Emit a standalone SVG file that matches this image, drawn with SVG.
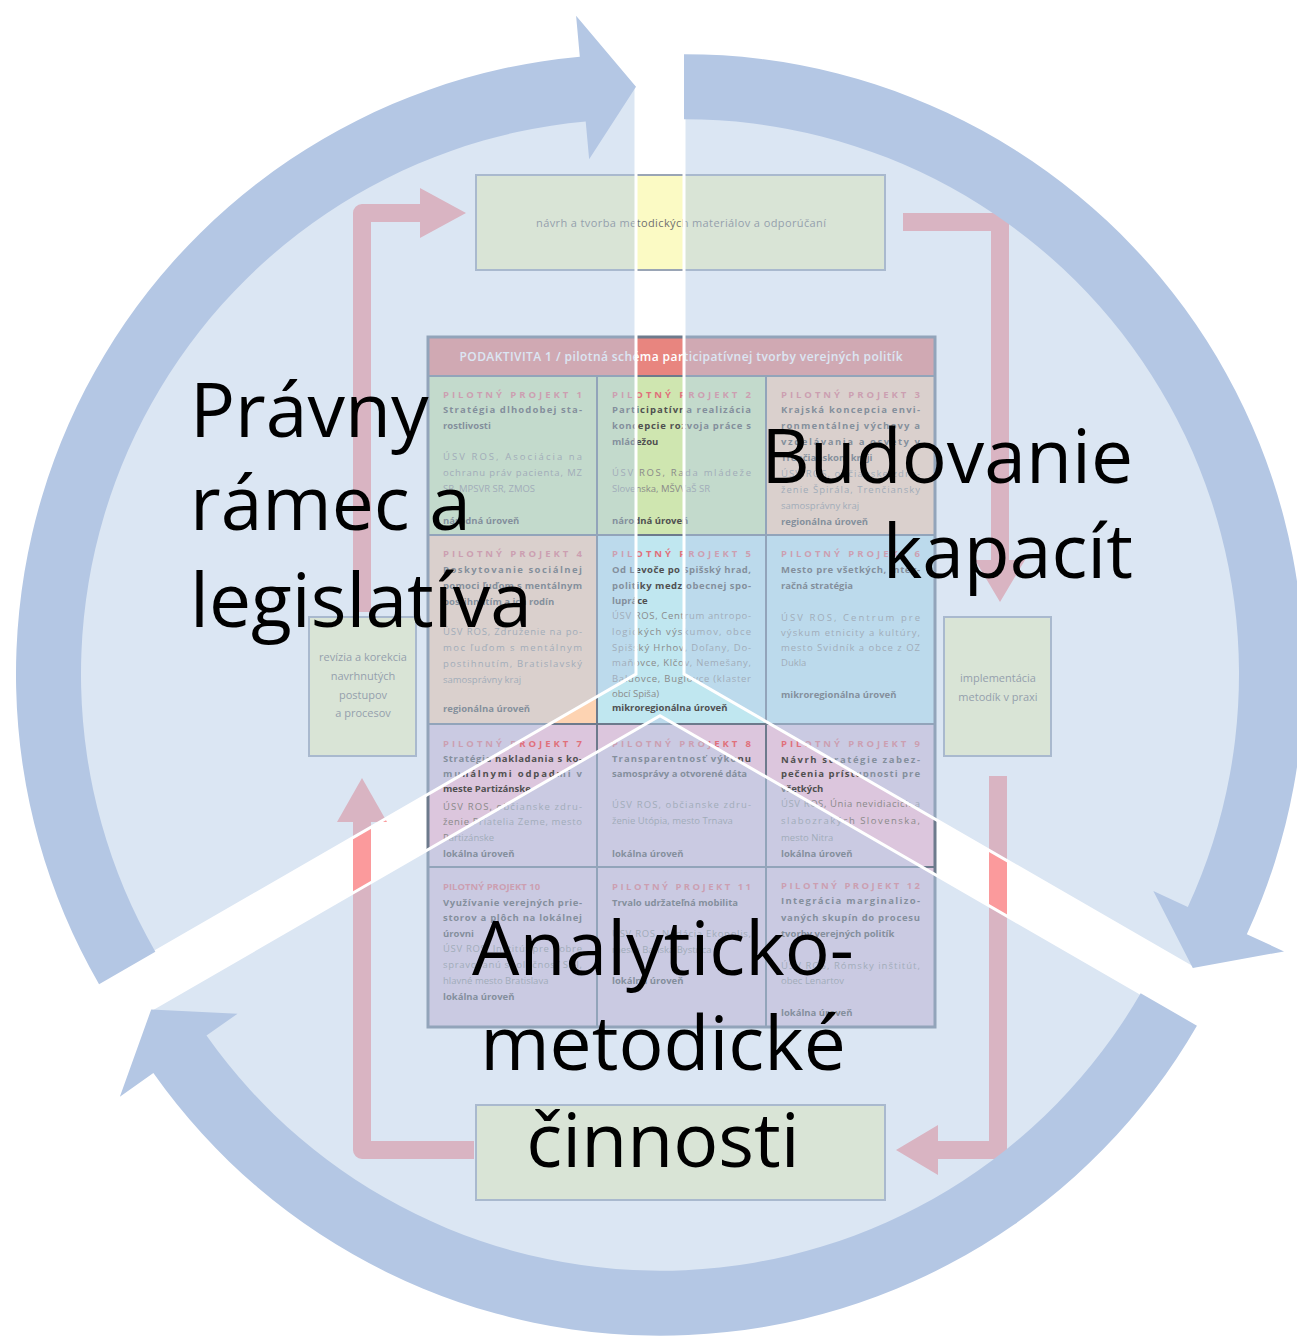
<svg xmlns="http://www.w3.org/2000/svg" width="1297" height="1337" viewBox="0 0 1297 1337">
<style>
  text { font-family: "Open Sans", "Liberation Sans", sans-serif; }
  .box { fill: #fbfac4; stroke: #9aa5b5; stroke-width: 2; }
  .cellg { fill: #cfe6b0; }
  .cellp { fill: #fdd3b2; }
  .cellb { fill: #c0e7f0; }
  .celll { fill: #dcc6dd; }
  .grid { fill: none; stroke: #6d7a8c; stroke-width: 2; }
  .t { font-size: 9.5px; font-weight: 700; fill: #e0707a; }
  .b { font-size: 9.5px; font-weight: 700; fill: #505050; }
  .p { font-size: 9.5px; fill: #8a8a8a; }
  .l { font-size: 9.5px; font-weight: 700; fill: #505050; }
  .bx { font-size: 11px; fill: #707070; text-anchor: middle; }
  .red { fill: none; stroke: #fb9a9c; stroke-width: 18; stroke-linejoin: round; }
  .redh { fill: #fb9a9c; }
  .pie { fill: #b8cde8; opacity: 0.5; }
  .edge { fill: none; stroke: #ffffff; stroke-width: 3; }
  .ring { fill: #b4c7e4; }
  .lbl { font-size: 75px; fill: #000000; }
</style>

<!-- embedded background diagram -->
<g id="embedded">
  <g id="embedded-connectors">
    <path class="red" d="M362,612 L362,213 L424,213"/>
    <polygon class="redh" points="420,188 466,213 420,238"/>
    <path class="red" d="M903,222 L1000,222 L1000,562"/>
    <polygon class="redh" points="975,560 1025,560 1000,602"/>
    <path class="red" d="M998,776 L998,1150 L936,1150"/>
    <polygon class="redh" points="938,1125 938,1175 896,1150"/>
    <path class="red" d="M474,1150 L362,1150 L362,820"/>
    <polygon class="redh" points="337,822 387,822 362,778"/>
  </g>

  <g id="box-top">
    <rect class="box" x="476" y="175" width="409" height="95"/>
    <text class="bx" x="681" y="227" font-size="12" textLength="290" lengthAdjust="spacing">návrh a tvorba metodických materiálov a odporúčaní</text>
  </g>
  <g id="box-left">
    <rect class="box" x="309" y="617" width="107" height="139"/>
    <text class="bx" x="363" y="661">revízia a korekcia</text>
    <text class="bx" x="363" y="680">navrhnutých</text>
    <text class="bx" x="363" y="699">postupov</text>
    <text class="bx" x="363" y="717">a procesov</text>
  </g>
  <g id="box-right">
    <rect class="box" x="944" y="617" width="107" height="139"/>
    <text class="bx" x="998" y="682">implementácia</text>
    <text class="bx" x="998" y="701">metodík v praxi</text>
  </g>
  <g id="box-bottom">
    <rect class="box" x="476" y="1105" width="409" height="95"/>
  </g>

  <g id="grid">
    <rect x="428" y="337" width="507" height="39" fill="#e8857f"/>
    <text x="681" y="361" font-size="12" font-weight="600" fill="#ffffff" text-anchor="middle" textLength="443" lengthAdjust="spacing">PODAKTIVITA 1 / pilotná schéma participatívnej tvorby verejných politík</text>
    <rect class="cellg" x="428" y="376" width="169" height="159"/>
    <rect class="cellg" x="597" y="376" width="169" height="159"/>
    <rect class="cellp" x="766" y="376" width="169" height="159"/>
    <rect class="cellp" x="428" y="535" width="169" height="189"/>
    <rect class="cellb" x="597" y="535" width="169" height="189"/>
    <rect class="cellb" x="766" y="535" width="169" height="189"/>
    <rect class="celll" x="428" y="724" width="507" height="303"/>
    <path class="grid" d="M428,376 H935 M428,535 H935 M428,724 H935 M428,867 H935 M597,376 V1027 M766,376 V1027"/>
    <rect x="428" y="337" width="507" height="690" fill="none" stroke="#6d7a8c" stroke-width="3"/>

    <g id="pp1">
      <text class="t" x="443" y="398" textLength="139" lengthAdjust="spacing">PILOTNÝ PROJEKT 1</text>
      <text class="b" x="443" y="413" textLength="139" lengthAdjust="spacing">Stratégia dlhodobej sta-</text>
      <text class="b" x="443" y="429">rostlivosti</text>
      <text class="p" x="443" y="460" textLength="139" lengthAdjust="spacing">ÚSV ROS, Asociácia na</text>
      <text class="p" x="443" y="476" textLength="139" lengthAdjust="spacing">ochranu práv pacienta, MZ</text>
      <text class="p" x="443" y="492">SR, MPSVR SR, ZMOS</text>
      <text class="l" x="443" y="524">národná úroveň</text>
    </g>
    <g id="pp2">
      <text class="t" x="612" y="398" textLength="139" lengthAdjust="spacing">PILOTNÝ PROJEKT 2</text>
      <text class="b" x="612" y="413" textLength="139" lengthAdjust="spacing">Participatívna realizácia</text>
      <text class="b" x="612" y="429" textLength="139" lengthAdjust="spacing">koncepcie rozvoja práce s</text>
      <text class="b" x="612" y="445">mládežou</text>
      <text class="p" x="612" y="476" textLength="139" lengthAdjust="spacing">ÚSV ROS, Rada mládeže</text>
      <text class="p" x="612" y="492">Slovenska, MŠVVaŠ SR</text>
      <text class="l" x="612" y="524">národná úroveň</text>
    </g>
    <g id="pp3">
      <text class="t" x="781" y="398" textLength="139" lengthAdjust="spacing">PILOTNÝ PROJEKT 3</text>
      <text class="b" x="781" y="413" textLength="139" lengthAdjust="spacing">Krajská koncepcia envi-</text>
      <text class="b" x="781" y="429" textLength="139" lengthAdjust="spacing">ronmentálnej výchovy a</text>
      <text class="b" x="781" y="445" textLength="139" lengthAdjust="spacing">vzdelávania a osvety v</text>
      <text class="b" x="781" y="461">Trenčianskom kraji</text>
      <text class="p" x="781" y="477" textLength="139" lengthAdjust="spacing">ÚSV ROS, občianske zdru-</text>
      <text class="p" x="781" y="493" textLength="139" lengthAdjust="spacing">ženie Špirála, Trenčiansky</text>
      <text class="p" x="781" y="509">samosprávny kraj</text>
      <text class="l" x="781" y="525">regionálna úroveň</text>
    </g>
    <g id="pp4">
      <text class="t" x="443" y="557" textLength="139" lengthAdjust="spacing">PILOTNÝ PROJEKT 4</text>
      <text class="b" x="443" y="573" textLength="139" lengthAdjust="spacing">Poskytovanie sociálnej</text>
      <text class="b" x="443" y="589" textLength="139" lengthAdjust="spacing">pomoci ľuďom s mentálnym</text>
      <text class="b" x="443" y="605">postihnutím a ich rodín</text>
      <text class="p" x="443" y="635" textLength="139" lengthAdjust="spacing">ÚSV ROS, Združenie na po-</text>
      <text class="p" x="443" y="651" textLength="139" lengthAdjust="spacing">moc ľuďom s mentálnym</text>
      <text class="p" x="443" y="667" textLength="139" lengthAdjust="spacing">postihnutím, Bratislavský</text>
      <text class="p" x="443" y="683">samosprávny kraj</text>
      <text class="l" x="443" y="712">regionálna úroveň</text>
    </g>
    <g id="pp5">
      <text class="t" x="612" y="557" textLength="139" lengthAdjust="spacing">PILOTNÝ PROJEKT 5</text>
      <text class="b" x="612" y="573" textLength="139" lengthAdjust="spacing">Od Levoče po Spišský hrad,</text>
      <text class="b" x="612" y="589" textLength="139" lengthAdjust="spacing">politiky medziobecnej spo-</text>
      <text class="b" x="612" y="604">lupráce</text>
      <text class="p" x="612" y="619" textLength="139" lengthAdjust="spacing">ÚSV ROS, Centrum antropo-</text>
      <text class="p" x="612" y="635" textLength="139" lengthAdjust="spacing">logických výskumov, obce</text>
      <text class="p" x="612" y="651" textLength="139" lengthAdjust="spacing">Spišský Hrhov, Doľany, Do-</text>
      <text class="p" x="612" y="666" textLength="139" lengthAdjust="spacing">maňovce, Klčov, Nemešany,</text>
      <text class="p" x="612" y="682" textLength="139" lengthAdjust="spacing">Baldovce, Bugľovce (klaster</text>
      <text class="p" x="612" y="697">obcí Spiša)</text>
      <text class="l" x="612" y="711">mikroregionálna úroveň</text>
    </g>
    <g id="pp6">
      <text class="t" x="781" y="557" textLength="139" lengthAdjust="spacing">PILOTNÝ PROJEKT 6</text>
      <text class="b" x="781" y="573" textLength="139" lengthAdjust="spacing">Mesto pre všetkých, integ-</text>
      <text class="b" x="781" y="589">račná stratégia</text>
      <text class="p" x="781" y="621" textLength="139" lengthAdjust="spacing">ÚSV ROS, Centrum pre</text>
      <text class="p" x="781" y="636" textLength="139" lengthAdjust="spacing">výskum etnicity a kultúry,</text>
      <text class="p" x="781" y="651" textLength="139" lengthAdjust="spacing">mesto Svidník a obce z OZ</text>
      <text class="p" x="781" y="666">Dukla</text>
      <text class="l" x="781" y="698">mikroregionálna úroveň</text>
    </g>
    <g id="pp7">
      <text class="t" x="443" y="747" textLength="139" lengthAdjust="spacing">PILOTNÝ PROJEKT 7</text>
      <text class="b" x="443" y="762" textLength="139" lengthAdjust="spacing">Stratégia nakladania s ko-</text>
      <text class="b" x="443" y="777" textLength="139" lengthAdjust="spacing">munálnymi odpadmi v</text>
      <text class="b" x="443" y="792">meste Partizánske</text>
      <text class="p" x="443" y="810" textLength="139" lengthAdjust="spacing">ÚSV ROS, občianske zdru-</text>
      <text class="p" x="443" y="825" textLength="139" lengthAdjust="spacing">ženie Priatelia Zeme, mesto</text>
      <text class="p" x="443" y="841">Partizánske</text>
      <text class="l" x="443" y="857">lokálna úroveň</text>
    </g>
    <g id="pp8">
      <text class="t" x="612" y="747" textLength="139" lengthAdjust="spacing">PILOTNÝ PROJEKT 8</text>
      <text class="b" x="612" y="762" textLength="139" lengthAdjust="spacing">Transparentnosť výkonu</text>
      <text class="b" x="612" y="777">samosprávy a otvorené dáta</text>
      <text class="p" x="612" y="808" textLength="139" lengthAdjust="spacing">ÚSV ROS, občianske zdru-</text>
      <text class="p" x="612" y="824">ženie Utópia, mesto Trnava</text>
      <text class="l" x="612" y="857">lokálna úroveň</text>
    </g>
    <g id="pp9">
      <text class="t" x="781" y="747" textLength="139" lengthAdjust="spacing">PILOTNÝ PROJEKT 9</text>
      <text class="b" x="781" y="763" textLength="139" lengthAdjust="spacing">Návrh stratégie zabez-</text>
      <text class="b" x="781" y="777" textLength="139" lengthAdjust="spacing">pečenia prístupnosti pre</text>
      <text class="b" x="781" y="792">všetkých</text>
      <text class="p" x="781" y="807" textLength="139" lengthAdjust="spacing">ÚSV ROS, Únia nevidiacich a</text>
      <text class="p" x="781" y="824" textLength="139" lengthAdjust="spacing">slabozrakých Slovenska,</text>
      <text class="p" x="781" y="841">mesto Nitra</text>
      <text class="l" x="781" y="857">lokálna úroveň</text>
    </g>
    <g id="pp10">
      <text class="t" x="443" y="890" font-weight="400">PILOTNÝ PROJEKT 10</text>
      <text class="b" x="443" y="906" textLength="139" lengthAdjust="spacing">Využívanie verejných prie-</text>
      <text class="b" x="443" y="921" textLength="139" lengthAdjust="spacing">storov a plôch na lokálnej</text>
      <text class="b" x="443" y="937">úrovni</text>
      <text class="p" x="443" y="952" textLength="139" lengthAdjust="spacing">ÚSV ROS, Inštitút pre dobre</text>
      <text class="p" x="443" y="968" textLength="139" lengthAdjust="spacing">spravovanú spoločnosť SGI,</text>
      <text class="p" x="443" y="984">hlavné mesto Bratislava</text>
      <text class="l" x="443" y="1000">lokálna úroveň</text>
    </g>
    <g id="pp11">
      <text class="t" x="612" y="890" textLength="139" lengthAdjust="spacing">PILOTNÝ PROJEKT 11</text>
      <text class="b" x="612" y="906">Trvalo udržateľná mobilita</text>
      <text class="p" x="612" y="937" textLength="139" lengthAdjust="spacing">ÚSV ROS, Nadácia Ekopolis,</text>
      <text class="p" x="612" y="953">mesto Banská Bystrica</text>
      <text class="l" x="612" y="984">lokálna úroveň</text>
    </g>
    <g id="pp12">
      <text class="t" x="781" y="889" textLength="139" lengthAdjust="spacing">PILOTNÝ PROJEKT 12</text>
      <text class="b" x="781" y="904" textLength="139" lengthAdjust="spacing">Integrácia marginalizo-</text>
      <text class="b" x="781" y="921" textLength="139" lengthAdjust="spacing">vaných skupín do procesu</text>
      <text class="b" x="781" y="937">tvorby verejných politík</text>
      <text class="p" x="781" y="969" textLength="139" lengthAdjust="spacing">ÚSV ROS, Rómsky inštitút,</text>
      <text class="p" x="781" y="984">obec Lenartov</text>
      <text class="l" x="781" y="1016">lokálna úroveň</text>
    </g>
  </g>
</g>

<!-- cycle sectors (nodes) -->
<g id="node-pravny">
  <g transform="translate(-24,-13.85)">
    <path class="pie" d="M660,688 L150.8,982 A588,588 0 0 1 660,100 Z"/>
    <path class="edge" d="M150.8,982 L660,688 L660,100"/>
  </g>
</g>
<g id="node-budovanie">
  <g transform="translate(24,-13.85)">
    <path class="pie" d="M660,688 L660,100 A588,588 0 0 1 1169.2,982 Z"/>
    <path class="edge" d="M660,100 L660,688 L1169.2,982"/>
  </g>
</g>
<g id="node-analyticko">
  <g transform="translate(0,27.7)">
    <path class="pie" d="M660,688 L1169.2,982 A588,588 0 0 1 150.8,982 Z"/>
    <path class="edge" d="M1169.2,982 L660,688 L150.8,982"/>
  </g>
</g>

<g id="connectors">
  <path class="ring" transform="translate(-24,-13.85)" d="M123.06,998 A620,620 0 0 1 603.81,70.55 L600.09,29.72 L660,100.5 L613.14,173.13 L609.7,135.29 A555,555 0 0 0 179.35,965.5 Z"/>
  <path class="ring" transform="translate(24,-13.85)" d="M660,68 A620,620 0 0 1 1222.82,948.06 L1260.04,965.26 L1168.79,981.75 L1129.32,904.86 L1163.82,920.79 A555,555 0 0 0 660,133 Z"/>
  <path class="ring" transform="translate(0,27.7)" d="M1196.94,998 A620,620 0 0 1 153.37,1045.39 L119.87,1069.02 L151.21,981.75 L237.54,986.01 L206.49,1007.92 A555,555 0 0 0 1140.65,965.5 Z"/>
</g>

<g id="labels">
  <g id="label-pravny">
    <text class="lbl" x="190" y="437">Právny</text>
    <text class="lbl" x="190" y="530">rámec a</text>
    <text class="lbl" x="190" y="627">legislatíva</text>
  </g>
  <g id="label-budovanie">
    <text class="lbl" x="1133" y="483" text-anchor="end">Budovanie</text>
    <text class="lbl" x="1133" y="578" text-anchor="end">kapacít</text>
  </g>
  <g id="label-analyticko">
    <text class="lbl" x="663" y="975" text-anchor="middle">Analyticko-</text>
    <text class="lbl" x="663" y="1070" text-anchor="middle">metodické</text>
    <text class="lbl" x="663" y="1167" text-anchor="middle">činnosti</text>
  </g>
</g>
</svg>
